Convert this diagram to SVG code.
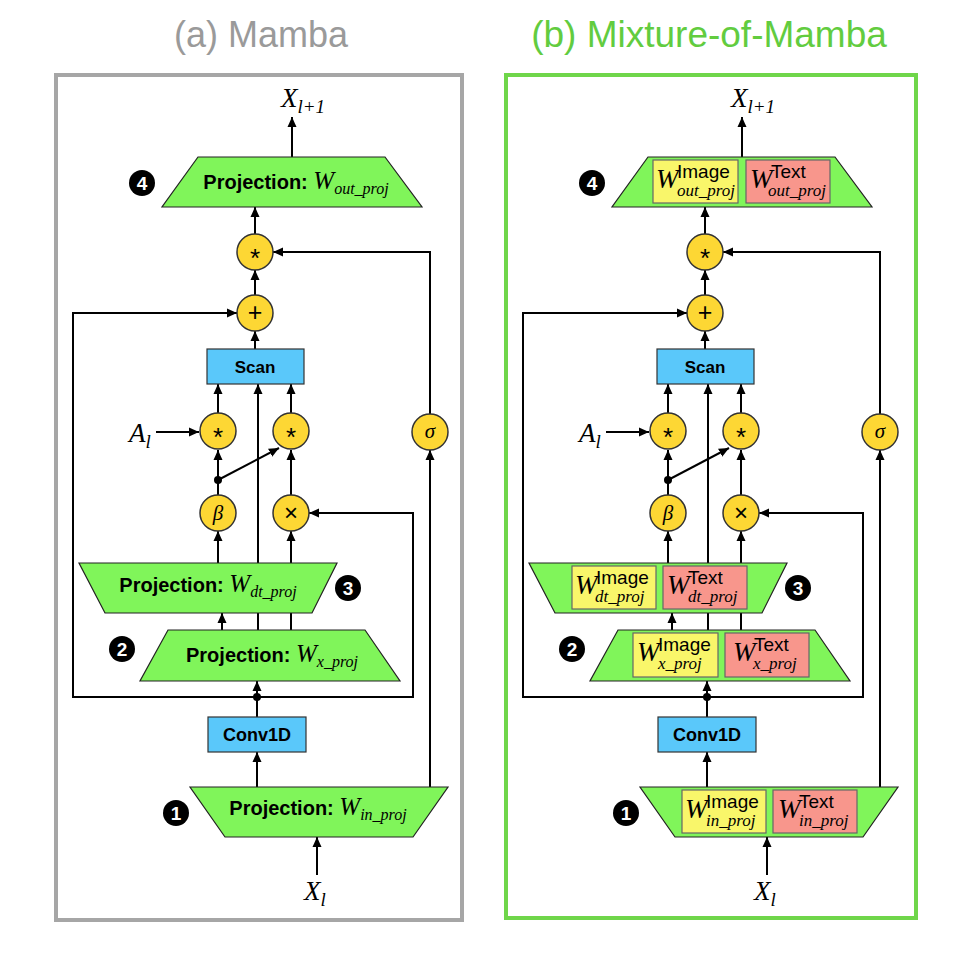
<svg xmlns="http://www.w3.org/2000/svg" width="975" height="965" viewBox="0 0 975 965">
<defs>
<marker id="ah" viewBox="0 0 10 10" refX="10" refY="5" markerWidth="10" markerHeight="10" markerUnits="userSpaceOnUse" orient="auto"><path d="M0,0.5 L10,5 L0,9.5 z" fill="#000"/></marker>
<style>
.title{font-family:"Liberation Sans",Arial,sans-serif;font-size:36px;text-anchor:middle}
.trap{fill:#80f55a;stroke:#222;stroke-width:1.2}
.blue{fill:#5ac8fa;stroke:#333;stroke-width:1.2}
.op{fill:#fdd734;stroke:#333;stroke-width:1.5}
.yb{fill:#f9f66a;stroke:#666;stroke-width:1.2}
.rb{fill:#f8968c;stroke:#666;stroke-width:1.2}
.ln{fill:none;stroke:#000;stroke-width:2}
.arr{fill:none;stroke:#000;stroke-width:2;marker-end:url(#ah)}
.proj{font-family:"Liberation Sans",Arial,sans-serif;font-weight:bold;font-size:20px;fill:#000}
.boxt{font-family:"Liberation Sans",Arial,sans-serif;font-weight:bold;font-size:17px;text-anchor:middle;fill:#000}
.w{font-family:"Liberation Serif","Times New Roman",serif;font-style:italic;font-weight:normal;font-size:25px}
.sub{font-family:"Liberation Serif","Times New Roman",serif;font-style:italic;font-weight:normal;font-size:16px}
.bw{font-family:"Liberation Serif","Times New Roman",serif;font-style:italic;font-size:27px;fill:#000}
.bsub{font-family:"Liberation Serif","Times New Roman",serif;font-style:italic;font-size:17px;fill:#000}
.sup{font-family:"Liberation Sans",Arial,sans-serif;font-size:19px;fill:#000}
.var{font-family:"Liberation Serif","Times New Roman",serif;font-style:italic;font-size:27px;fill:#000}
.vsub{font-family:"Liberation Serif","Times New Roman",serif;font-size:19px}
.sym{font-family:"Liberation Sans",Arial,sans-serif;font-size:21px;text-anchor:middle;fill:#000}
.ast{font-family:"Liberation Sans",Arial,sans-serif;font-size:26px;text-anchor:middle;fill:#000}
.gk{font-family:"Liberation Serif","Times New Roman",serif;font-style:italic;font-size:21px;text-anchor:middle;fill:#000}
.badge{fill:#000}
.bn{font-family:"Liberation Sans",Arial,sans-serif;font-weight:bold;font-size:19px;fill:#fff;text-anchor:middle}
</style>
</defs>
<rect width="975" height="965" fill="#fff"/>

<!-- Titles -->
<text class="title" x="261" y="47" fill="#9a9a9a">(a) Mamba</text>
<text class="title" x="709" y="47" fill="#62cc3f" style="font-size:37px">(b) Mixture-of-Mamba</text>

<!-- Panel frames -->
<rect id="frame-a" x="56" y="75" width="406" height="845" fill="none" stroke="#a6a6a6" stroke-width="4"/>
<rect id="frame-b" x="506" y="75" width="410" height="843" fill="none" stroke="#6fd64a" stroke-width="4"/>

<!-- ===== Connectors (a) ===== -->
<g id="connectors-a">
<path class="arr" d="M292,157 V117"/>
<path class="arr" d="M255,234 V207"/>
<path class="arr" d="M255,295 V270"/>
<path class="arr" d="M255,349 V331"/>
<path class="arr" d="M430,414 V252 H273"/>
<path class="arr" d="M257,697 H73 V313 H237"/>
<path class="arr" d="M257,697 H413 V513 H309"/>
<path class="ln" d="M257,717 V697"/>
<path class="arr" d="M257,697 V681"/>
<circle cx="257" cy="697" r="4" fill="#000"/>
<path class="arr" d="M257,787 V752"/>
<path class="arr" d="M430,787 V450"/>
<path class="arr" d="M317,875 V837"/>
<path class="arr" d="M222,630 V613"/>
<path class="arr" d="M258,630 V384"/>
<path class="arr" d="M291,630 V531"/>
<path class="arr" d="M218,563 V531"/>
<path class="arr" d="M218,495 V450"/>
<circle cx="218" cy="480" r="4" fill="#000"/>
<path class="arr" d="M218,480 L279,448"/>
<path class="arr" d="M291,495 V450"/>
<path class="arr" d="M218,413 V384"/>
<path class="arr" d="M291,413 V384"/>
<path class="arr" d="M156,432 H199"/>
</g>

<!-- ===== Nodes (a) ===== -->
<g id="a-out">
<text class="var" x="281" y="107">X<tspan class="vsub" dy="6"><tspan font-style="italic">l</tspan>+1</tspan></text>
</g>
<g id="a-proj4">
<polygon class="trap" points="198,157 385,157 422,207 162,207"/>
<text class="proj" x="296" y="189" text-anchor="middle">Projection: <tspan class="w">W</tspan><tspan class="sub" dy="5">out_proj</tspan></text>
</g>
<g id="a-badge4"><circle class="badge" cx="142" cy="183" r="13"/><text class="bn" x="142" y="190">4</text></g>
<g id="a-mul2"><circle class="op" cx="255" cy="252" r="18"/><text class="ast" x="255" y="267">*</text></g>
<g id="a-add"><circle class="op" cx="255" cy="313" r="18"/><text class="sym" x="255" y="321" style="font-size:25px">+</text></g>
<g id="a-scan"><rect class="blue" x="207" y="349" width="97" height="35"/><text class="boxt" x="255" y="373">Scan</text></g>
<g id="a-A"><text class="var" x="129" y="442">A<tspan class="vsub" dy="6" font-style="italic">l</tspan></text></g>
<g id="a-mul0"><circle class="op" cx="218" cy="431" r="18"/><text class="ast" x="218" y="446">*</text></g>
<g id="a-mul1"><circle class="op" cx="291" cy="431" r="18"/><text class="ast" x="291" y="446">*</text></g>
<g id="a-sigma"><circle class="op" cx="430" cy="432" r="18"/><text class="gk" x="430" y="438">σ</text></g>
<g id="a-beta"><circle class="op" cx="218" cy="513" r="18"/><text class="gk" x="218" y="520">β</text></g>
<g id="a-times"><circle class="op" cx="291" cy="513" r="18"/><text class="sym" x="291" y="521" style="font-size:24px">×</text></g>
<g id="a-proj3">
<polygon class="trap" points="79,563 337,563 312,613 105,613"/>
<text class="proj" x="208" y="592" text-anchor="middle">Projection: <tspan class="w">W</tspan><tspan class="sub" dy="5">dt_proj</tspan></text>
</g>
<g id="a-badge3"><circle class="badge" cx="348" cy="588" r="13"/><text class="bn" x="348" y="595">3</text></g>
<g id="a-proj2">
<polygon class="trap" points="168,630 365,630 400,681 140,681"/>
<text class="proj" x="272" y="662" text-anchor="middle">Projection: <tspan class="w">W</tspan><tspan class="sub" dy="5">x_proj</tspan></text>
</g>
<g id="a-badge2"><circle class="badge" cx="122" cy="649" r="13"/><text class="bn" x="122" y="656">2</text></g>
<g id="a-conv"><rect class="blue" x="208" y="717" width="98" height="35"/><text class="boxt" x="257" y="741" style="font-size:18px">Conv1D</text></g>
<g id="a-proj1">
<polygon class="trap" points="190,787 448,787 413,837 225,837"/>
<text class="proj" x="318" y="815" text-anchor="middle">Projection: <tspan class="w">W</tspan><tspan class="sub" dy="5">in_proj</tspan></text>
</g>
<g id="a-badge1"><circle class="badge" cx="176" cy="813" r="13"/><text class="bn" x="176" y="820">1</text></g>
<g id="a-in"><text class="var" x="304" y="900">X<tspan class="vsub" dy="6" font-style="italic">l</tspan></text></g>

<!-- ===== Connectors (b) ===== -->
<g id="connectors-b">
<path class="arr" d="M742,157 V117"/>
<path class="arr" d="M705,234 V207"/>
<path class="arr" d="M705,295 V270"/>
<path class="arr" d="M705,349 V331"/>
<path class="arr" d="M880,414 V252 H723"/>
<path class="arr" d="M707,697 H523 V313 H687"/>
<path class="arr" d="M707,697 H863 V513 H759"/>
<path class="ln" d="M707,717 V697"/>
<path class="arr" d="M707,697 V681"/>
<circle cx="707" cy="697" r="4" fill="#000"/>
<path class="arr" d="M707,787 V752"/>
<path class="arr" d="M880,787 V450"/>
<path class="arr" d="M767,875 V837"/>
<path class="arr" d="M672,630 V613"/>
<path class="arr" d="M708,630 V384"/>
<path class="arr" d="M741,630 V531"/>
<path class="arr" d="M668,563 V531"/>
<path class="arr" d="M668,495 V450"/>
<circle cx="668" cy="480" r="4" fill="#000"/>
<path class="arr" d="M668,480 L729,448"/>
<path class="arr" d="M741,495 V450"/>
<path class="arr" d="M668,413 V384"/>
<path class="arr" d="M741,413 V384"/>
<path class="arr" d="M606,432 H649"/>
</g>

<!-- ===== Nodes (b) ===== -->
<g id="b-out">
<text class="var" x="731" y="107">X<tspan class="vsub" dy="6"><tspan font-style="italic">l</tspan>+1</tspan></text>
</g>
<g id="b-proj4">
<polygon class="trap" points="648,157 835,157 872,207 612,207"/>
<rect class="yb" x="653" y="160" width="85" height="43"/>
<text class="bw" x="656" y="188">W</text><text class="sup" x="677" y="178">Image</text><text class="bsub" x="677" y="196">out_proj</text>
<rect class="rb" x="746" y="160" width="84" height="43"/>
<text class="bw" x="750" y="188">W</text><text class="sup" x="771" y="178">Text</text><text class="bsub" x="768" y="196">out_proj</text>
</g>
<g id="b-badge4"><circle class="badge" cx="592" cy="183" r="13"/><text class="bn" x="592" y="190">4</text></g>
<g id="b-mul2"><circle class="op" cx="705" cy="252" r="18"/><text class="ast" x="705" y="267">*</text></g>
<g id="b-add"><circle class="op" cx="705" cy="313" r="18"/><text class="sym" x="705" y="321" style="font-size:25px">+</text></g>
<g id="b-scan"><rect class="blue" x="657" y="349" width="97" height="35"/><text class="boxt" x="705" y="373">Scan</text></g>
<g id="b-A"><text class="var" x="579" y="442">A<tspan class="vsub" dy="6" font-style="italic">l</tspan></text></g>
<g id="b-mul0"><circle class="op" cx="668" cy="431" r="18"/><text class="ast" x="668" y="446">*</text></g>
<g id="b-mul1"><circle class="op" cx="741" cy="431" r="18"/><text class="ast" x="741" y="446">*</text></g>
<g id="b-sigma"><circle class="op" cx="880" cy="432" r="18"/><text class="gk" x="880" y="438">σ</text></g>
<g id="b-beta"><circle class="op" cx="668" cy="513" r="18"/><text class="gk" x="668" y="520">β</text></g>
<g id="b-times"><circle class="op" cx="741" cy="513" r="18"/><text class="sym" x="741" y="521" style="font-size:24px">×</text></g>
<g id="b-proj3">
<polygon class="trap" points="529,563 787,563 762,613 555,613"/>
<rect class="yb" x="572" y="566" width="84" height="43"/>
<text class="bw" x="575" y="594">W</text><text class="sup" x="596" y="584">Image</text><text class="bsub" x="595" y="602">dt_proj</text>
<rect class="rb" x="663" y="566" width="84" height="43"/>
<text class="bw" x="667" y="594">W</text><text class="sup" x="688" y="584">Text</text><text class="bsub" x="688" y="602">dt_proj</text>
</g>
<g id="b-badge3"><circle class="badge" cx="798" cy="588" r="13"/><text class="bn" x="798" y="595">3</text></g>
<g id="b-proj2">
<polygon class="trap" points="618,630 815,630 850,681 590,681"/>
<rect class="yb" x="633" y="633" width="85" height="44"/>
<text class="bw" x="637" y="661">W</text><text class="sup" x="658" y="651">Image</text><text class="bsub" x="658" y="669">x_proj</text>
<rect class="rb" x="725" y="633" width="84" height="44"/>
<text class="bw" x="733" y="661">W</text><text class="sup" x="754" y="651">Text</text><text class="bsub" x="753" y="669">x_proj</text>
</g>
<g id="b-badge2"><circle class="badge" cx="572" cy="649" r="13"/><text class="bn" x="572" y="656">2</text></g>
<g id="b-conv"><rect class="blue" x="658" y="717" width="98" height="35"/><text class="boxt" x="707" y="741" style="font-size:18px">Conv1D</text></g>
<g id="b-proj1">
<polygon class="trap" points="640,787 898,787 863,837 675,837"/>
<rect class="yb" x="682" y="790" width="84" height="43"/>
<text class="bw" x="685" y="818">W</text><text class="sup" x="706" y="808">Image</text><text class="bsub" x="706" y="826">in_proj</text>
<rect class="rb" x="773" y="790" width="84" height="43"/>
<text class="bw" x="778" y="818">W</text><text class="sup" x="799" y="808">Text</text><text class="bsub" x="799" y="826">in_proj</text>
</g>
<g id="b-badge1"><circle class="badge" cx="626" cy="813" r="13"/><text class="bn" x="626" y="820">1</text></g>
<g id="b-in"><text class="var" x="754" y="900">X<tspan class="vsub" dy="6" font-style="italic">l</tspan></text></g>
</svg>
